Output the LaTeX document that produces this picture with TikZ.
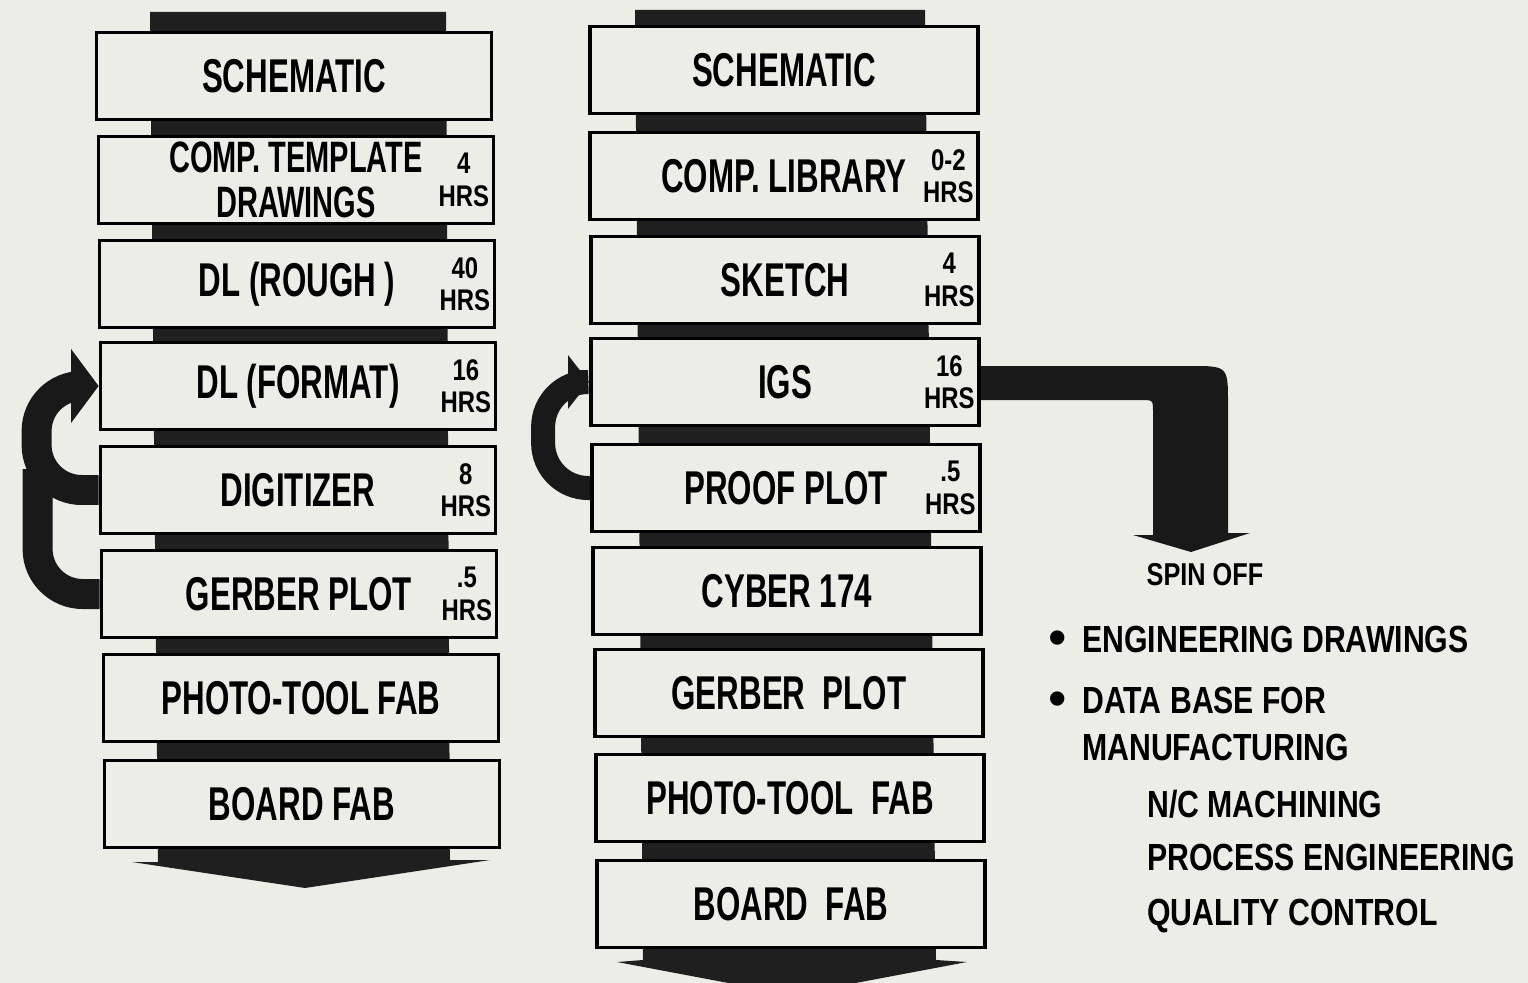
\documentclass[tikz,border=0pt]{standalone}
\usepackage{fontspec}
\setmainfont{Liberation Sans}
\newfontfamily\boxfont[FakeStretch=0.66]{Liberation Sans}
\newfontfamily\notefont[FakeStretch=0.8]{Liberation Sans}
\usetikzlibrary{arrows.meta, calc}
\definecolor{paper}{RGB}{237,237,231}

\begin{document}
\begin{tikzpicture}[
		x=0.02cm, y=-0.02cm,
		% Process stage: framed box, width given per column
		stage/.style={
				rectangle, draw=black, line width=2.2pt, fill=paper,
				minimum width=#1, minimum height=1.74cm, inner sep=0pt,
				font=\boxfont\bfseries\fontsize{27}{23}\selectfont, align=center
			},
		% Hours, set inside the right end of a stage
		hrs/.style={
				anchor=east, xshift=-0.12cm, inner sep=0pt, align=center,
				font=\notefont\bfseries\fontsize{17}{18.5}\selectfont
			},
		% Black band running behind each column
		flowbar/.style={fill=black!88},
		% Feedback loops
		loopline/.style={line width=#1, draw=black!90, rounded corners=0.9cm},
		% Right hand notes
		spinlab/.style={font=\notefont\bfseries\fontsize{18}{18}\selectfont, inner sep=0pt},
		listline/.style={anchor=base west, inner sep=0pt, font=\notefont\bfseries\fontsize{21.5}{21.5}\selectfont}
	]

	\useasboundingbox (0,0) rectangle (1528,983);
	\clip (0,0) rectangle (1528,983);
	\fill[paper] (0,0) rectangle (1528,983);

	% ==========================================
	% 1. BANDS (behind the boxes)
	% ==========================================
	\coordinate (lbarend) at (305,888);
	\coordinate (rbarend) at (792,995);

	\fill[flowbar] (150,12) -- (446,12) -- (450,860) -- (490,860) -- (lbarend) -- (132,862) -- (158,862) -- cycle;
	\fill[flowbar] (635,10) -- (925,10) -- (936,960) -- (967,962) -- (rbarend) -- (617,962) -- (643,960) -- cycle;

	% ==========================================
	% 2. LEFT COLUMN (manual route)
	% ==========================================
	\node[stage=7.9cm] (lschem) at (294,76) {SCHEMATIC};
	\node[stage=7.9cm, font=\boxfont\bfseries\fontsize{25}{25.5}\selectfont, label={[hrs]east:4\\HRS}] (ltemplate) at (296,180) {COMP. TEMPLATE\\DRAWINGS};
	\node[stage=7.9cm, label={[hrs]east:40\\HRS}] (lrough) at (297,284) {DL (ROUGH )};
	\node[stage=7.9cm, label={[hrs]east:16\\HRS}] (lformat) at (298,386) {DL (FORMAT)};
	\node[stage=7.9cm, label={[hrs]east:8\\HRS}] (ldigit) at (298,490) {DIGITIZER};
	\node[stage=7.9cm, label={[hrs]east:.5\\HRS}] (lgerber) at (299,594) {GERBER PLOT};
	\node[stage=7.9cm] (lphoto) at (301,698) {PHOTO-TOOL FAB};
	\node[stage=7.9cm] (lboard) at (302,804) {BOARD FAB};

	% loops back to the format step
	\draw[loopline=0.6cm] (lgerber.west) -- ++(-62,0) -- ++(0,-125);
	\draw[loopline=0.6cm, -{Triangle[length=0.55cm, width=1.45cm]}] (ldigit.west) -- ++(-62,0) |- (lformat.west);

	% ==========================================
	% 3. RIGHT COLUMN (IGS route)
	% ==========================================
	\node[stage=7.76cm] (rschem) at (784,70) {SCHEMATIC};
	\node[stage=7.76cm, label={[hrs]east:0-2\\HRS}] (rlibrary) at (784,176) {COMP. LIBRARY};
	\node[stage=7.76cm, label={[hrs]east:4\\HRS}] (rsketch) at (785,280) {SKETCH};
	\node[stage=7.76cm, label={[hrs]east:16\\HRS}] (rigs) at (785,382) {IGS};
	\node[stage=7.76cm, label={[hrs]east:.5\\HRS}] (rproof) at (786,488) {PROOF PLOT};
	\node[stage=7.76cm] (rcyber) at (787,591) {CYBER 174};
	\node[stage=7.76cm] (rgerber) at (789,693) {GERBER\ \ PLOT};
	\node[stage=7.76cm] (rphoto) at (790,798) {PHOTO-TOOL\ \ FAB};
	\node[stage=7.76cm] (rboard) at (791,904) {BOARD\ \ FAB};

	\draw[loopline=0.48cm, -{Triangle[length=0.42cm, width=1.05cm]}] (rproof.west) -- ++(-47,0) |- (rigs.west);

	% ==========================================
	% 4. SPIN OFF
	% ==========================================
	\node[spinlab] (spinoff) at (1205,575) {SPIN OFF};
	\coordinate (spintip) at (1191,552);

	\fill[black!90] ($(rigs.east)+(0,-16)$) -- (1190,366) .. controls (1228,366) .. (1228,404)
		-- (1228,533) -- (1250,533) -- (spintip) -- (1133,535) -- (1153,535)
		-- (1153,412) .. controls (1153,400) .. (1141,400) -- ($(rigs.east)+(0,18)$) -- cycle;

	\node[listline] (engdraw) at (1082,652) {\llap{\raisebox{-0.06cm}{\normalfont\fontsize{30}{30}\selectfont\textbullet}\hspace{0.3cm}}ENGINEERING DRAWINGS};
	\node[listline] (database) at (1082,713) {\llap{\raisebox{-0.06cm}{\normalfont\fontsize{30}{30}\selectfont\textbullet}\hspace{0.3cm}}DATA BASE FOR};
	\node[listline] (manuf) at (1082,760) {MANUFACTURING};
	\node[listline] (ncmach) at (1147,817) {N/C MACHINING};
	\node[listline] (process) at (1147,870) {PROCESS ENGINEERING};
	\node[listline] (quality) at (1147,925) {QUALITY CONTROL};

\end{tikzpicture}
\end{document}
